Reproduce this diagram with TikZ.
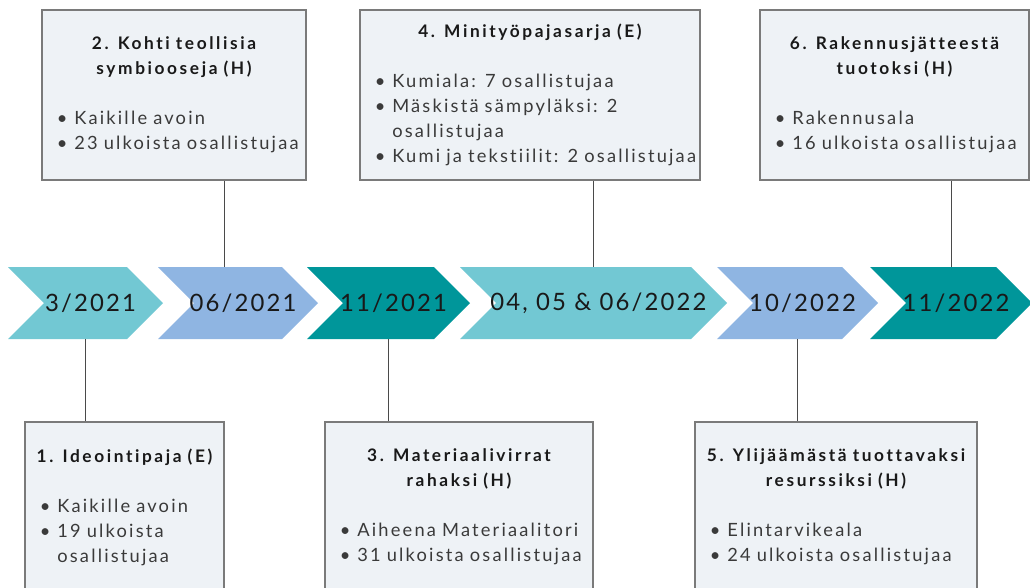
\documentclass[tikz,border=0pt]{standalone}
\usepackage{fontspec}
\setmainfont{Lato}[LetterSpace=12, Ligatures=NoCommon, BoldFeatures={LetterSpace=15}]
\newfontfamily\datefont{Lato}[LetterSpace=9, Ligatures=NoCommon]
\usetikzlibrary{shapes.symbols}

\definecolor{chevA}{HTML}{72C8D3}
\definecolor{chevB}{HTML}{8FB5E2}
\definecolor{chevC}{HTML}{00969A}
\definecolor{boxfill}{HTML}{EEF2F6}
\definecolor{boxline}{HTML}{7A7A7A}
\definecolor{bodytext}{HTML}{3A3A3A}
\definecolor{linkline}{HTML}{4A4A4A}

\newcommand\pxu{0.025cm}
\newcommand\bitem[1]{{\leftskip=0.375cm\hangindent=0.95em\hangafter=1\noindent\makebox[0.95em][l]{\textbullet}#1\par}}
\newcommand\btitle[1]{{\centering\bfseries\fontsize{12.3}{17.8}\selectfont\color{black!90}#1\par}\vspace{17.8pt}}

\begin{document}
\begin{tikzpicture}[x=\pxu, y=-\pxu,
    chev/.style={signal, signal from=west, signal to=east, signal pointer angle=90,
        minimum height=72*\pxu, inner xsep=-1cm, inner ysep=0pt, text=black!90,
        execute at begin node={\hspace{0.25cm}},
        font=\datefont\fontsize{17}{20}\selectfont},
    infobox/.style={draw=boxline, fill=boxfill, line width=0.8pt,
        minimum height=170*\pxu, inner xsep=0pt, inner ysep=0pt,
        align=left, text=bodytext, font=\fontsize{13}{17.8}\selectfont},
    link/.style={draw=linkline, line width=0.7pt}]

    % fixed frame of the picture
    \useasboundingbox (0,0) rectangle (1030,587);

    % timeline chevrons
    \node[chev, fill=chevA, minimum width=155*\pxu] (c1) at (85.5,303) {3/2021};
    \node[chev, fill=chevB, minimum width=160*\pxu] (c2) at (238,303) {06/2021};
    \node[chev, fill=chevC, minimum width=163*\pxu] (c3) at (388.5,303) {11/2021};
    \node[chev, fill=chevA, minimum width=267*\pxu] (c4) at (593.5,303) {04, 05 \& 06/2022};
    \node[chev, fill=chevB, minimum width=161*\pxu] (c5) at (797.5,303) {10/2022};
    \node[chev, fill=chevC, minimum width=162*\pxu] (c6) at (951,303) {11/2022};

    % upper boxes
    \node[infobox, minimum width=264*\pxu, text width=6.6cm] (b2) at (174,95) {%
        \btitle{2. Kohti teollisia\\symbiooseja (H)}%
        \bitem{Kaikille avoin}\bitem{23 ulkoista osallistujaa}};
    \node[infobox, minimum width=340*\pxu, text width=8.5cm] (b4) at (530,95) {%
        \btitle{4. Minityöpajasarja (E)}%
        \bitem{Kumiala: 7 osallistujaa}\bitem{Mäskistä sämpyläksi: 2\hfil\break osallistujaa}%
        \bitem{Kumi ja tekstiilit: 2 osallistujaa}};
    \node[infobox, minimum width=269*\pxu, text width=6.725cm] (b6) at (894.5,95) {%
        \btitle{6. Rakennusjätteestä\\tuotoksi (H)}%
        \bitem{Rakennusala}\bitem{16 ulkoista osallistujaa}};

    % lower boxes
    \node[infobox, minimum width=199*\pxu, text width=4.975cm] (b1) at (124.5,507) {%
        \btitle{1. Ideointipaja (E)}%
        \bitem{Kaikille avoin}\bitem{19 ulkoista\hfil\break osallistujaa}};
    \node[infobox, minimum width=268*\pxu, text width=6.7cm] (b3) at (459,507) {%
        \btitle{3. Materiaalivirrat\\rahaksi (H)}%
        \bitem{Aiheena Materiaalitori}\bitem{31 ulkoista osallistujaa}};
    \node[infobox, minimum width=282*\pxu, text width=7.05cm] (b5) at (836,507) {%
        \btitle{5. Ylijäämästä tuottavaksi\\resurssiksi (H)}%
        \bitem{Elintarvikeala}\bitem{24 ulkoista osallistujaa}};

    % connectors
    \coordinate (t2) at ([xshift=-14*\pxu]c2.north);
    \draw[link] (t2) -- (t2 |- b2.south);
    \draw[link] (c4.north) -- (c4.north |- b4.south);
    \draw[link] (c6.north) -- (c6.north |- b6.south);
    \draw[link] (c1.south) -- (c1.south |- b1.north);
    \draw[link] (c3.south) -- (c3.south |- b3.north);
    \draw[link] (c5.south) -- (c5.south |- b5.north);

\end{tikzpicture}
\end{document}
